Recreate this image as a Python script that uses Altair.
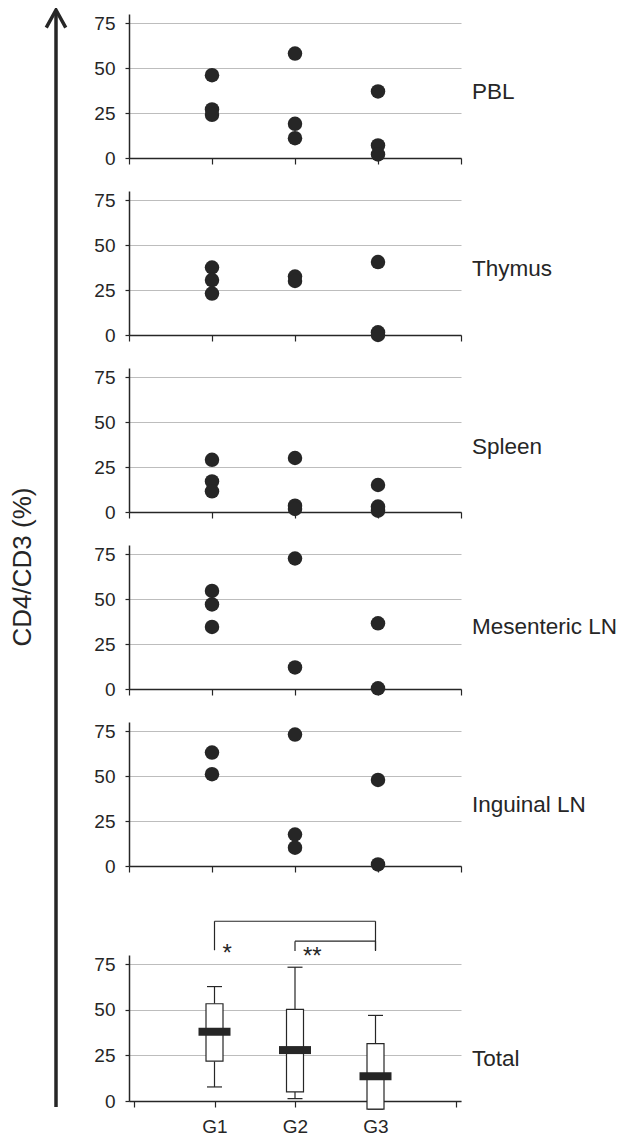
import altair as alt
import pandas as pd

FONT = "Liberation Sans"
INK = "#262626"

groups = ["G1", "G2", "G3"]
tissues = ["PBL", "Thymus", "Spleen", "Mesenteric LN", "Inguinal LN"]

# CD4/CD3 (%) per animal, per group
pbl = {"G1": [46, 27, 24], "G2": [58, 19, 11], "G3": [37, 7, 2]}
thymus = {"G1": [37.5, 30.5, 23], "G2": [32.5, 30], "G3": [40.5, 1.5, 0]}
spleen = {"G1": [29, 17, 11.5], "G2": [30, 3.5, 1.7], "G3": [15, 3, 0.7]}
mesenteric = {"G1": [54.5, 47, 34.5], "G2": [72.5, 12], "G3": [36.5, 0.4]}
inguinal = {"G1": [63, 51], "G2": [73, 17.5, 10.2], "G3": [47.8, 0.9]}
tissue_values = [pbl, thymus, spleen, mesenteric, inguinal]

# Total: box-plot summary
whisk_hi = [62.7, 73.3, 46.9]
box_q3 = [53.3, 50.2, 31.4]
box_med = [38.0, 27.9, 13.6]
box_q1 = [21.8, 5.0, -4.4]
whisk_lo = [7.7, 1.3, -4.4]

# significance brackets
sig_from = ["G1", "G2"]
sig_to = ["G3", "G3"]
sig_level = [98.5, 87.6]
sig_leg_bottom = [82.6, 82.2]
sig_stars = ["*", "**"]
sig_star_y = [84.6, 83.0]

y_ticks = [0, 25, 50, 75]
x_ticks = [0, 1, 2, 3, 4]

W = 332
H = 144


def pos(g):
    return groups.index(g) + 1


def xenc(field, show_labels):
    return alt.X(
        f"{field}:Q",
        scale=alt.Scale(domain=[0, 4], nice=False, zero=False),
        axis=alt.Axis(
            values=x_ticks, grid=False, title=None, labels=show_labels,
            labelExpr="datum.value >= 1 && datum.value <= 3 ? 'G' + datum.value : ''",
            tickSize=6, tickColor=INK, domainColor=INK, domainWidth=1.5, tickWidth=1.2,
            labelFontSize=19, labelFont=FONT, labelColor=INK, labelPadding=10,
        ),
    )


def yenc(field):
    return alt.Y(
        f"{field}:Q",
        scale=alt.Scale(domain=[0, 80], nice=False, zero=False),
        axis=alt.Axis(
            values=y_ticks, grid=True, gridColor="#bdbdbd", gridWidth=1, title=None,
            tickSize=4, tickColor=INK, domainColor=INK, domainWidth=1.5, tickWidth=1.2,
            labelFontSize=19, labelFont=FONT, labelColor=INK, labelPadding=10,
        ),
    )


def panel_label(name, ypix):
    return alt.Chart(pd.DataFrame({"label": [name]})).mark_text(
        align="left", baseline="middle", font=FONT, fontSize=22.5, color=INK
    ).encode(x=alt.value(W + 11), y=alt.value(ypix), text="label:N")


label_y = [78, 78, 79, 82, 83]

panels = []
for i, (name, vals) in enumerate(zip(tissues, tissue_values)):
    rows = [{"group": g, "pos": pos(g), "value": v} for g in groups for v in vals[g]]
    df = pd.DataFrame(rows)
    pts = alt.Chart(df).mark_circle(size=210, color=INK, opacity=1, clip=False).encode(
        x=xenc("pos", False), y=yenc("value")
    )
    layers = [pts, panel_label(name, label_y[i])]
    if i == 0:
        deco = pd.DataFrame({"t": ["CD4/CD3 (%)"]})
        shaft = alt.Chart(deco).mark_rule(color=INK, strokeWidth=3.5).encode(
            x=alt.value(-73), y=alt.value(-2), y2=alt.value(1093)
        )
        head = alt.Chart(deco).mark_point(
            shape="M -1 1.8 L 0 0 L 1 1.8", filled=False, stroke=INK,
            strokeWidth=3.5, size=380, opacity=1, strokeJoin="miter", strokeMiterLimit=2.3
        ).encode(x=alt.value(-73), y=alt.value(-4))
        title = alt.Chart(deco).mark_text(
            angle=270, align="center", baseline="middle", font=FONT, fontSize=26, color=INK
        ).encode(x=alt.value(-106), y=alt.value(553), text="t:N")
        layers += [shaft, head, title]
    panels.append(alt.layer(*layers).properties(width=W, height=H))

# spacer between the tissue panels and the Total panel
spacer = alt.Chart(pd.DataFrame({"a": [0]})).mark_point(opacity=0).encode(
    x=alt.value(0), y=alt.value(0)
).properties(width=W, height=23)

# Total panel
box = pd.DataFrame({
    "group": groups, "pos": [pos(g) for g in groups],
    "hi": whisk_hi, "q3": box_q3, "med": box_med, "q1": box_q1, "lo": whisk_lo,
})
whisk_up = alt.Chart(box).mark_rule(color=INK, strokeWidth=1.2).encode(
    x=xenc("pos", True), y=yenc("q3"), y2="hi:Q"
)
whisk_dn = alt.Chart(box).mark_rule(color=INK, strokeWidth=1.2).encode(
    x="pos:Q", y="lo:Q", y2="q1:Q"
)
cap_hi = alt.Chart(box).mark_tick(orient="horizontal", size=15, thickness=1.2, color=INK, opacity=1).encode(
    x="pos:Q", y="hi:Q"
)
cap_lo = alt.Chart(box).mark_tick(orient="horizontal", size=15, thickness=1.2, color=INK, opacity=1).encode(
    x="pos:Q", y="lo:Q"
)
boxes = alt.Chart(box).mark_bar(size=17, fill="white", stroke=INK, strokeWidth=1.2, orient="vertical", clip=False).encode(
    x="pos:Q", y="q1:Q", y2="q3:Q"
)
meds = alt.Chart(box).mark_tick(orient="horizontal", size=32, thickness=8, color=INK, opacity=1).encode(
    x="pos:Q", y="med:Q"
)

seg_rows = []
star_rows = []
for a, b, lvl, bot, st, sy in zip(sig_from, sig_to, sig_level, sig_leg_bottom, sig_stars, sig_star_y):
    seg_rows.append({"x": pos(a), "x2": pos(b), "y": lvl, "y2": lvl})
    seg_rows.append({"x": pos(a), "x2": pos(a), "y": lvl, "y2": bot})
    seg_rows.append({"x": pos(b), "x2": pos(b), "y": lvl, "y2": bot})
    star_rows.append({"x": pos(a), "y": sy, "s": st})
segs = alt.Chart(pd.DataFrame(seg_rows)).mark_rule(color=INK, strokeWidth=1.2, clip=False).encode(
    x="x:Q", x2="x2:Q", y="y:Q", y2="y2:Q"
)
stars = alt.Chart(pd.DataFrame(star_rows)).mark_text(
    align="left", baseline="alphabetic", dx=8, dy=14, font=FONT, fontSize=24, color=INK, clip=False
).encode(x="x:Q", y="y:Q", text="s:N")

total = alt.layer(
    whisk_up, whisk_dn, cap_hi, cap_lo, boxes, meds, segs, stars, panel_label("Total", 104)
).properties(width=W, height=146)

chart = alt.vconcat(*panels, spacer, total, spacing=33, bounds="flush").properties(
    padding={"left": 2, "top": -3, "right": 0, "bottom": 0},
    background="white",
).configure_view(stroke=None)

chart.save("out.html", embed_options={"renderer": "svg", "actions": False})
